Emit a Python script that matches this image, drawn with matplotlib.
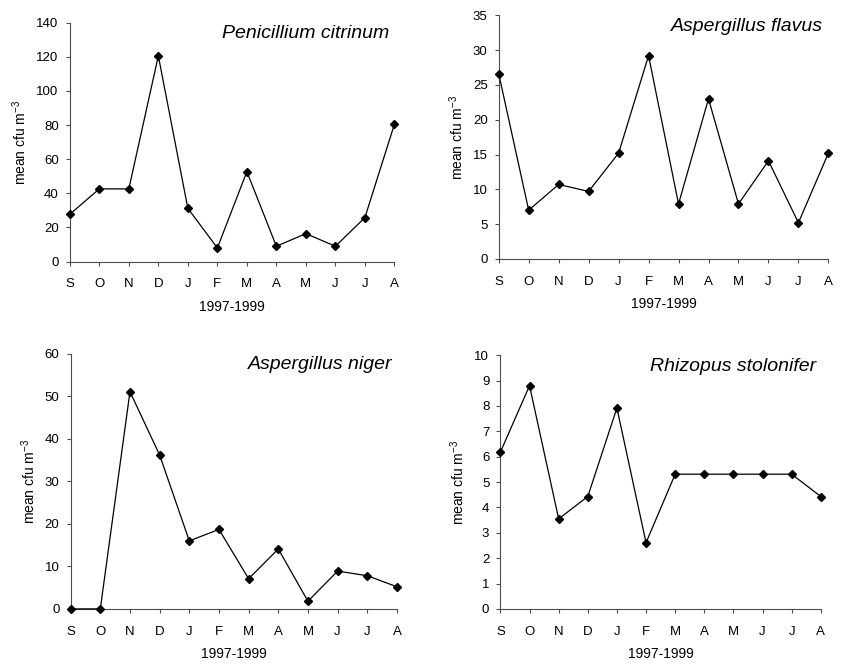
import numpy as np
import matplotlib
matplotlib.use("Agg")
import matplotlib.pyplot as plt

plt.rcParams["font.family"] = ["Liberation Sans", "DejaVu Sans"]

MONTHS = ["S", "O", "N", "D", "J", "F", "M", "A", "M", "J", "J", "A"]
XLABEL = "1997-1999"
YLABEL = r"mean cfu m$^{\mathregular{-3}}$"

# mean cfu per m3
PEN_CITRINUM = [27.7, 42.6, 42.6, 120.5, 31.2, 8.0, 52.7, 9.0, 16.4, 9.0, 25.8, 80.5]
ASP_FLAVUS = [26.6, 7.0, 10.7, 9.7, 15.2, 29.2, 7.9, 23.0, 7.9, 14.1, 5.2, 15.2]
ASP_NIGER = [0.0, 0.0, 51.1, 36.2, 16.0, 18.7, 7.1, 14.1, 1.8, 8.9, 7.8, 5.2]
RHI_STOLONIFER = [6.18, 8.80, 3.55, 4.43, 7.92, 2.61, 5.31, 5.31, 5.31, 5.31, 5.31, 4.43]

PANELS = [
    ("Penicillium citrinum", PEN_CITRINUM, 140, 20, [0.083, 0.606, 0.386, 0.360]),
    ("Aspergillus flavus", ASP_FLAVUS, 35, 5, [0.593, 0.610, 0.392, 0.367]),
    ("Aspergillus niger", ASP_NIGER, 60, 10, [0.084, 0.083, 0.388, 0.384]),
    ("Rhizopus stolonifer", RHI_STOLONIFER, 10, 1, [0.595, 0.083, 0.381, 0.382]),
]


def main():
    fig = plt.figure(figsize=(8.41, 6.64), dpi=100)
    x = np.arange(len(MONTHS))
    for name, vals, ymax, step, pos in PANELS:
        ax = fig.add_axes(pos)
        ax.plot(x, vals, color="k", lw=0.9, marker="D", ms=4.5,
                mfc="k", mec="k", clip_on=False, zorder=3)
        ax.set_xlim(0, len(MONTHS) - 1)
        ax.set_ylim(0, ymax)
        ax.set_yticks(np.arange(0, ymax + step / 2, step))
        ax.set_xticks(x)
        ax.set_xticklabels(MONTHS)
        for s in ("top", "right"):
            ax.spines[s].set_visible(False)
        for s in ("left", "bottom"):
            ax.spines[s].set_color("0.3")
            ax.spines[s].set_linewidth(0.8)
        ax.tick_params(axis="both", direction="out", length=3, width=0.8,
                       color="0.3", labelsize=9.5)
        ax.tick_params(axis="x", pad=9)
        ax.tick_params(axis="y", pad=5)
        ax.set_xlabel(XLABEL, fontsize=10, labelpad=7)
        ax.set_ylabel(YLABEL, fontsize=10, labelpad=5)
        ax.text(0.985, 0.99, name, transform=ax.transAxes, ha="right",
                va="top", fontsize=14, style="italic")
    fig.savefig("out.png", dpi=100)


if __name__ == "__main__":
    main()
